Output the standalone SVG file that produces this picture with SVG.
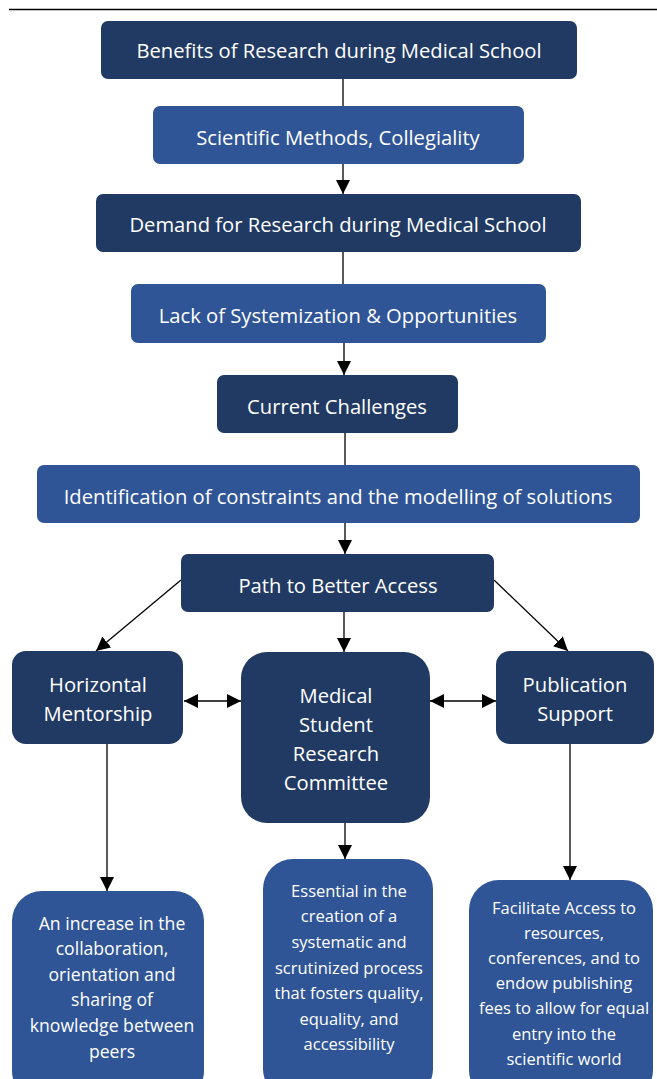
<svg xmlns="http://www.w3.org/2000/svg" width="657" height="1079" viewBox="0 0 657 1079">
  <style>
    .dark { fill: #213a63; }
    .light { fill: #2f5597; }
    .lbl { font-family: "Open Sans", "Noto Sans", sans-serif; fill: #ffffff; text-anchor: middle; }
    .big { font-size: 20.2px; }
    .small { font-size: 16.5px; }
    .medium { font-size: 17.6px; }
    .conn { stroke: #000000; stroke-width: 1.3; fill: none; }
  </style>
  <defs>
    <marker id="head" viewBox="0 0 14 14" refX="14" refY="7" markerWidth="14" markerHeight="14" markerUnits="userSpaceOnUse" orient="auto-start-reverse">
      <path d="M0,0 L14,7 L0,14 Z" fill="#000000"/>
    </marker>
  </defs>

  <rect x="0" y="0" width="657" height="1079" fill="#ffffff"/>
  <!-- top rule -->
  <line x1="9" y1="9.5" x2="657" y2="9.5" stroke="#000000" stroke-width="1.5"/>

  <!-- connectors -->
  <g id="connectors">
    <line class="conn" x1="343" y1="79" x2="343" y2="106"/>
    <line class="conn" x1="343" y1="164" x2="343" y2="194" marker-end="url(#head)"/>
    <line class="conn" x1="343" y1="252" x2="343" y2="284"/>
    <line class="conn" x1="344" y1="343" x2="344" y2="375" marker-end="url(#head)"/>
    <line class="conn" x1="345" y1="433" x2="345" y2="465"/>
    <line class="conn" x1="345" y1="523" x2="345" y2="554" marker-end="url(#head)"/>
    <line class="conn" x1="181" y1="580" x2="96" y2="651" marker-end="url(#head)"/>
    <line class="conn" x1="344" y1="612" x2="344" y2="652" marker-end="url(#head)"/>
    <line class="conn" x1="494" y1="580" x2="568" y2="651" marker-end="url(#head)"/>
    <line class="conn" x1="184" y1="701" x2="241" y2="701" marker-start="url(#head)" marker-end="url(#head)"/>
    <line class="conn" x1="430" y1="701" x2="496" y2="701" marker-start="url(#head)" marker-end="url(#head)"/>
    <line class="conn" x1="107" y1="744" x2="107" y2="891" marker-end="url(#head)"/>
    <line class="conn" x1="345" y1="823" x2="345" y2="859" marker-end="url(#head)"/>
    <line class="conn" x1="570" y1="744" x2="570" y2="880" marker-end="url(#head)"/>
  </g>

  <g id="benefits">
    <rect class="dark" x="101" y="21" width="476" height="58" rx="7"/>
    <text class="lbl big" x="339" y="58">Benefits of Research during Medical School</text>
  </g>
  <g id="scientific-methods">
    <rect class="light" x="153" y="106" width="371" height="58" rx="7"/>
    <text class="lbl big" x="338" y="145">Scientific Methods, Collegiality</text>
  </g>
  <g id="demand">
    <rect class="dark" x="96" y="194" width="485" height="58" rx="7"/>
    <text class="lbl big" x="338" y="232">Demand for Research during Medical School</text>
  </g>
  <g id="lack">
    <rect class="light" x="131" y="284" width="415" height="59" rx="7"/>
    <text class="lbl big" x="338" y="323">Lack of Systemization &amp; Opportunities</text>
  </g>
  <g id="current-challenges">
    <rect class="dark" x="217" y="375" width="241" height="58" rx="7"/>
    <text class="lbl big" x="337" y="414">Current Challenges</text>
  </g>
  <g id="identification">
    <rect class="light" x="37" y="465" width="603" height="58" rx="7"/>
    <text class="lbl big" x="338" y="504">Identification of constraints and the modelling of solutions</text>
  </g>
  <g id="path-to-access">
    <rect class="dark" x="181" y="554" width="313" height="58" rx="7"/>
    <text class="lbl big" x="338" y="593">Path to Better Access</text>
  </g>

  <g id="horizontal-mentorship">
    <rect class="dark" x="12" y="651" width="171" height="93" rx="14"/>
    <text class="lbl big" x="98" y="692">Horizontal</text>
    <text class="lbl big" x="98" y="721">Mentorship</text>
  </g>
  <g id="msrc">
    <rect class="dark" x="241" y="652" width="189" height="171" rx="26"/>
    <text class="lbl big" x="336" y="703">Medical</text>
    <text class="lbl big" x="336" y="732">Student</text>
    <text class="lbl big" x="336" y="761">Research</text>
    <text class="lbl big" x="336" y="790">Committee</text>
  </g>
  <g id="publication-support">
    <rect class="dark" x="496" y="651" width="158" height="93" rx="14"/>
    <text class="lbl big" x="575" y="692">Publication</text>
    <text class="lbl big" x="575" y="721">Support</text>
  </g>

  <g id="mentorship-outcome">
    <rect class="light" x="12" y="891" width="192" height="210" rx="30"/>
    <text class="lbl medium" x="112" y="930">An increase in the</text>
    <text class="lbl medium" x="112" y="955">collaboration,</text>
    <text class="lbl medium" x="112" y="981">orientation and</text>
    <text class="lbl medium" x="112" y="1006">sharing of</text>
    <text class="lbl medium" x="112" y="1032">knowledge between</text>
    <text class="lbl medium" x="112" y="1058">peers</text>
  </g>
  <g id="committee-outcome">
    <rect class="light" x="263" y="859" width="170" height="240" rx="30"/>
    <text class="lbl small" x="349" y="897">Essential in the</text>
    <text class="lbl small" x="349" y="922">creation of a</text>
    <text class="lbl small" x="349" y="948">systematic and</text>
    <text class="lbl small" x="349" y="974">scrutinized process</text>
    <text class="lbl small" x="349" y="999">that fosters quality,</text>
    <text class="lbl small" x="349" y="1025">equality, and</text>
    <text class="lbl small" x="349" y="1050">accessibility</text>
  </g>
  <g id="publication-outcome">
    <rect class="light" x="469" y="880" width="184" height="220" rx="30"/>
    <text class="lbl small" x="564" y="914">Facilitate Access to</text>
    <text class="lbl small" x="564" y="939">resources,</text>
    <text class="lbl small" x="564" y="964">conferences, and to</text>
    <text class="lbl small" x="564" y="989">endow publishing</text>
    <text class="lbl small" x="564" y="1014">fees to allow for equal</text>
    <text class="lbl small" x="564" y="1040">entry into the</text>
    <text class="lbl small" x="564" y="1065">scientific world</text>
  </g>
</svg>
